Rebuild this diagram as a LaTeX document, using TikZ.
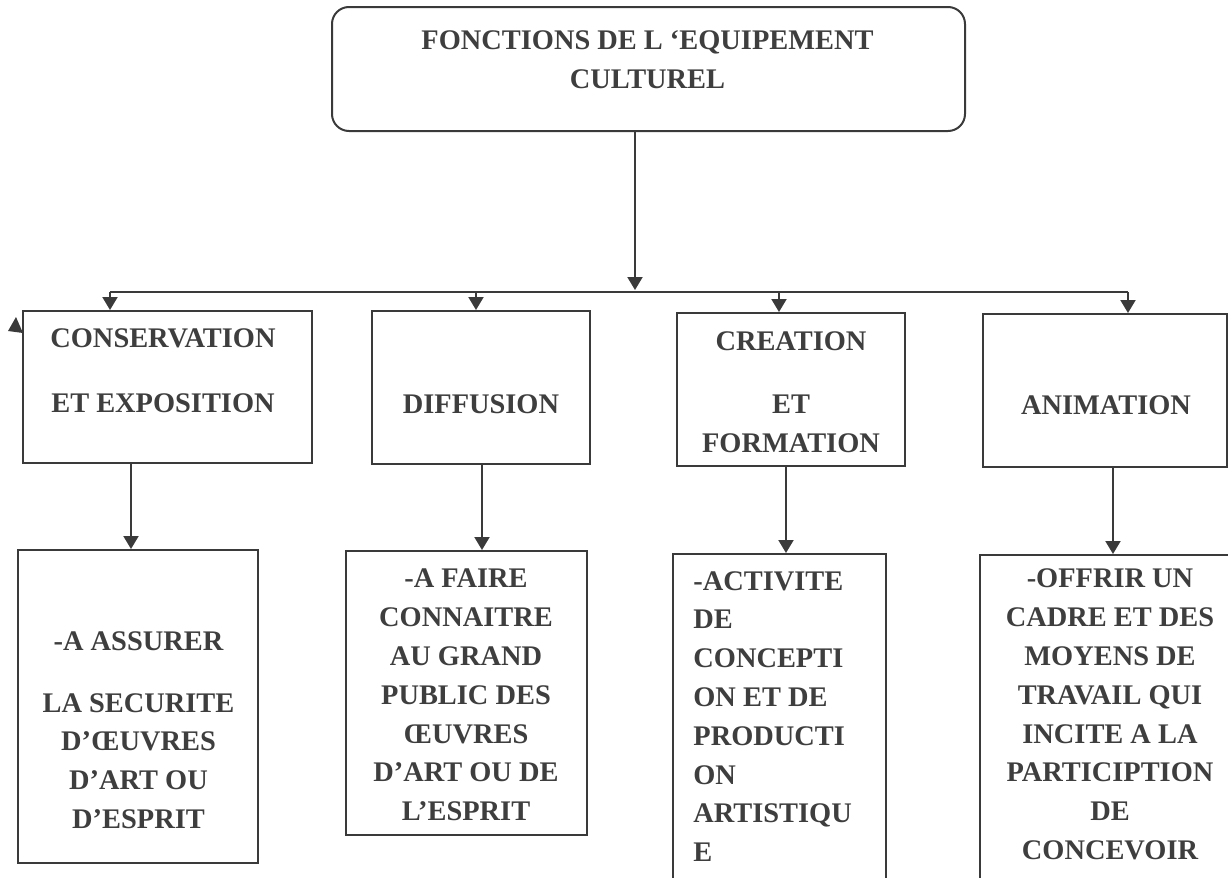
\documentclass[tikz,border=0pt]{standalone}
\usepackage{fontspec}
\setmainfont{Liberation Serif}
\usetikzlibrary{arrows.meta}
\definecolor{ink}{RGB}{58,58,58}
\definecolor{txt}{RGB}{62,62,62}
\begin{document}
\begin{tikzpicture}[x=0.5pt,y=-0.5pt,
  box/.style={draw=ink, line width=1pt, rectangle, inner sep=0pt},
  lbl/.style={text=txt, font=\fontsize{14.2}{19.4}\selectfont\bfseries, align=center, inner sep=0pt},
  arr/.style={draw=ink, line width=1pt, -{Triangle[width=7.5pt,length=6.5pt]}},
  wire/.style={draw=ink, line width=1pt}]
\useasboundingbox (0,0) rectangle (1228,878);
\clip (0,0) rectangle (1228,878);

% title box
\node[box, rounded corners=8.5pt, minimum width=316.5pt, minimum height=62pt] (top) at (648.5,69) {};
\node[lbl] (topT) at (647.5,60) {FONCTIONS DE L ‘EQUIPEMENT\\CULTUREL};

% the four functions
\node[box, minimum width=144.5pt, minimum height=76pt] (b1) at (167.5,387) {};
\node[box, minimum width=109pt, minimum height=76.5pt] (b2) at (481,387.5) {};
\node[box, minimum width=114pt, minimum height=76.5pt] (b3) at (791,389.5) {};
\node[box, minimum width=122pt, minimum height=76.5pt] (b4) at (1105,390.5) {};

\node[lbl] (b1T) at (163,370.5) {CONSERVATION\\[13.2pt]ET EXPOSITION};
\node[lbl] (b2T) at (481,404) {DIFFUSION};
\node[lbl] (b3T) at (791,392) {CREATION\\[12.1pt]ET\\FORMATION};
\node[lbl] (b4T) at (1106,405) {ANIMATION};

% their details
\node[box, minimum width=120pt, minimum height=156.5pt] (b5) at (138,706.5) {};
\node[box, minimum width=120.5pt, minimum height=142pt] (b6) at (466.5,693) {};
\node[box, minimum width=106.5pt, minimum height=173pt] (b7) at (779.5,727) {};
\node[box, minimum width=130pt, minimum height=172.5pt] (b8) at (1110,727.5) {};

\node[lbl] (b5T) at (138.5,730) {-A ASSURER\\[11.6pt]LA SECURITE\\D’ŒUVRES\\D’ART OU\\D’ESPRIT};
\node[lbl] (b6T) at (466,695) {-A FAIRE\\CONNAITRE\\AU GRAND\\PUBLIC DES\\ŒUVRES\\D’ART OU DE\\L’ESPRIT};
\node[lbl, align=left, anchor=west] (b7T) at (693,716.5) {-ACTIVITE\\DE\\CONCEPTI\\ON ET DE\\PRODUCTI\\ON\\ARTISTIQU\\E};
\node[lbl] (b8T) at (1110,714.5) {-OFFRIR UN\\CADRE ET DES\\MOYENS DE\\TRAVAIL QUI\\INCITE A LA\\PARTICIPTION\\DE\\CONCEVOIR};

% distribution bus
\coordinate (busM) at (635,292);
\coordinate (busL) at (110,292);
\coordinate (bus2) at (476,292);
\coordinate (bus3) at (779,292);
\coordinate (busR) at (1128,292);
\draw[arr] (top.south -| busM) -- ([yshift=1pt]busM);
\draw[wire] (busL) -- (busR);
\draw[arr] (busL) -- (busL |- b1.north);
\draw[arr] (bus2) -- (bus2 |- b2.north);
\draw[arr] (bus3) -- (bus3 |- b3.north);
\draw[arr] (busR) -- (busR |- b4.north);

% function to detail
\draw[arr] ([xshift=-18.25pt]b1.south) -- ([xshift=-18.25pt]b1.south |- b5.north);
\draw[arr] ([xshift=0.5pt]b2.south) -- ([xshift=0.5pt]b2.south |- b6.north);
\draw[arr] ([xshift=-2.5pt]b3.south) -- ([xshift=-2.5pt]b3.south |- b7.north);
\draw[arr] ([xshift=4pt]b4.south) -- ([xshift=4pt]b4.south |- b8.north);

% small stray tip beside the first box
\fill[ink] (8,331) -- (16,317) -- (23,333) -- cycle;
\end{tikzpicture}
\end{document}
